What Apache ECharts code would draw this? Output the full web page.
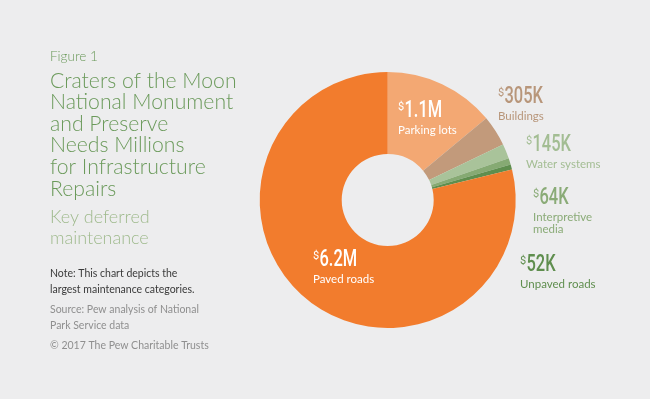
<!DOCTYPE html>
<html>
<head>
<meta charset="utf-8">
<script src="https://cdn.jsdelivr.net/npm/echarts@6/dist/echarts.min.js"></script>
<style>
  html, body { margin: 0; padding: 0; background: #ededee; }
  #chart { width: 650px; height: 399px; }
</style>
</head>
<body>
<div id="chart"></div>
<script>
// categories and values (USD), clockwise from 12 o'clock
const categories = ['Parking lots', 'Buildings', 'Water systems', 'Interpretive\nmedia', 'Unpaved roads', 'Paved roads']
const values = [1100000, 305000, 145000, 64000, 52000, 6200000]
const amountLabels = ['1.1M', '305K', '145K', '64K', '52K', '6.2M']
const colors = ['#f3a873', '#c29a7b', '#a9c39a', '#86aa73', '#5f8e4e', '#f27c2d']
const labelColors = ['#ffffff', '#b8967a', '#a3bd93', '#8aab77', '#5f8e4e', '#ffffff']
// where each label block sits (left, baseline of amount)
const labelPos = [[398, 119], [498, 105], [526, 153], [533, 206], [520, 273], [313, 268]]

const titleLines = ['Craters of the Moon', 'National Monument', 'and Preserve', 'Needs Millions', 'for Infrastructure', 'Repairs']
const subtitleLines = ['Key deferred', 'maintenance']
const noteLines = ['Note: This chart depicts the', 'largest maintenance categories.']
const sourceLines = ['Source: Pew analysis of National', 'Park Service data']
const copyright = '\u00a9 2017 The Pew Charitable Trusts'

const chart = echarts.init(document.getElementById('chart'))

const numFont = 'Roboto, "DejaVu Sans", sans-serif'
const textFont = 'Lato, "Open Sans", sans-serif'

const graphics = []
// text placed by its baseline
const addText = (x, y, text, size, color, opts) => {
  opts = opts || {}
  graphics.push({
    type: 'text', x: x, y: y - size * 0.84, z: 100,
    scaleX: opts.scaleX || 1,
    style: {
      text: text, fill: color, verticalAlign: 'top',
      font: (opts.weight || 'normal') + ' ' + size + 'px ' + (opts.font || textFont)
    }
  })
}

addText(50, 61, 'Figure 1', 13.5, '#6b9a5b', { weight: 300 })
titleLines.forEach((t, i) => addText(50, 88 + i * 21.6, t, 21.2, '#6b9a5b', { weight: 300 }))
subtitleLines.forEach((t, i) => addText(50, 223 + i * 21.6, t, 18, '#9fba8d', { weight: 300 }))
noteLines.forEach((t, i) => addText(50, 277 + i * 15.5, t, 10.5, '#3a3a3a'))
sourceLines.forEach((t, i) => addText(50, 313 + i * 15.5, t, 10.5, '#8f8f8f'))
addText(50, 349, copyright, 10.5, '#8f8f8f')

categories.forEach((c, i) => {
  const [x, y] = labelPos[i]
  addText(x, y - 8, '$', 11, labelColors[i], { font: numFont })
  addText(x + 6.5, y, amountLabels[i], 23.5, labelColors[i], { font: numFont, weight: 500, scaleX: 0.7 })
  c.split('\n').forEach((line, j) => addText(x, y + 15 + j * 12, line, 11.5, labelColors[i]))
})

chart.setOption({
  backgroundColor: '#ededee',
  animation: false,
  color: colors,
  graphic: graphics,
  series: [{
    type: 'pie',
    center: [387.7, 200],
    radius: [46, 128],
    startAngle: 90,
    clockwise: true,
    label: { show: false },
    labelLine: { show: false },
    itemStyle: { borderWidth: 0 },
    data: categories.map((c, i) => ({ name: c, value: values[i] }))
  }]
})
</script>
</body>
</html>
